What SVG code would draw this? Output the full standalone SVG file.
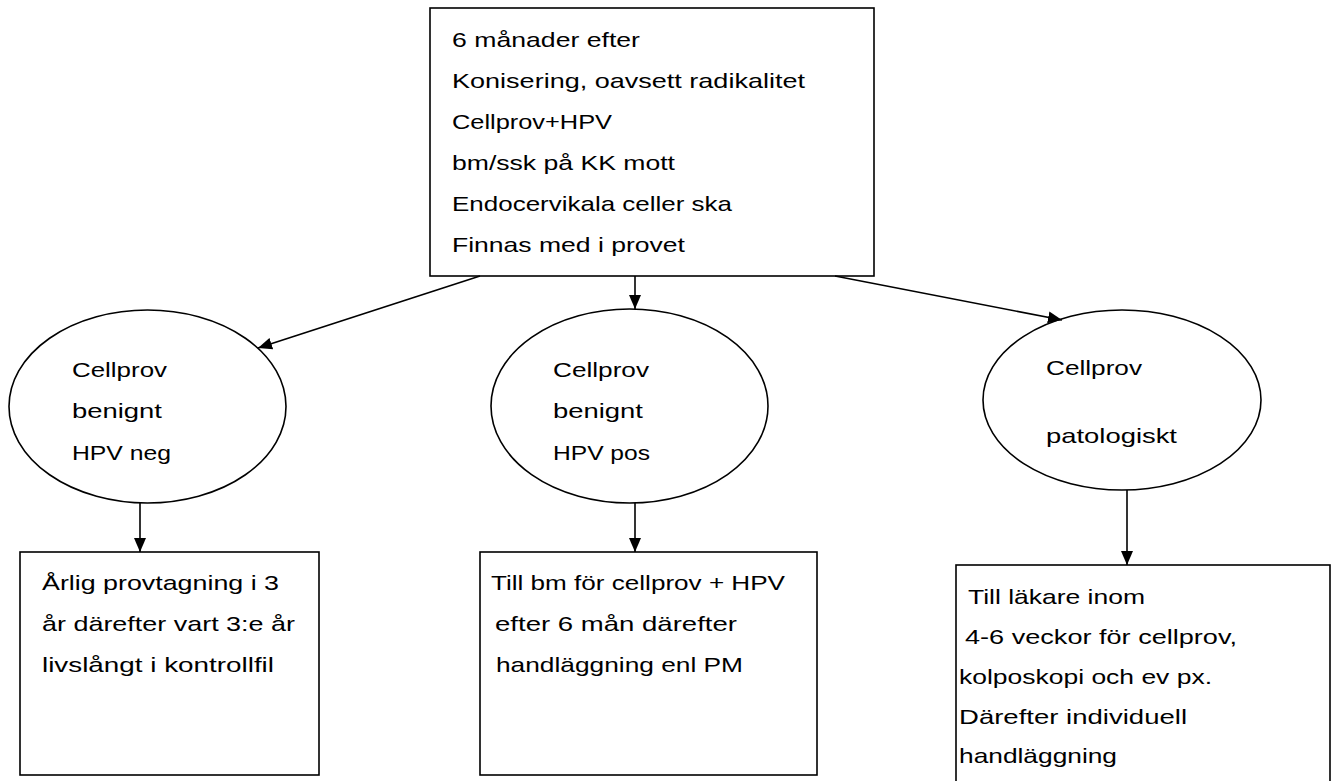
<svg xmlns="http://www.w3.org/2000/svg" width="1333" height="781" viewBox="0 0 1333 781">
<style>
.shape{fill:#fff;stroke:#000;stroke-width:1.6}
.t{font-family:"Liberation Sans",Arial,sans-serif;font-size:21px;fill:#000}
.c{fill:none;stroke:#000;stroke-width:1.6}
</style>
<defs>
<marker id="ah" markerUnits="userSpaceOnUse" markerWidth="14" markerHeight="12" viewBox="0 0 14 12" refX="14" refY="6" orient="auto">
<path d="M0,0 L14,6 L0,12 Z" fill="#000"/>
</marker>
</defs>
<rect width="1333" height="781" fill="#fff"/>
<g id="top">
<rect class="shape" x="430" y="8" width="444" height="268"/>
<text class="t" x="452" y="47" textLength="188" lengthAdjust="spacingAndGlyphs">6 månader efter</text>
<text class="t" x="452" y="88" textLength="353" lengthAdjust="spacingAndGlyphs">Konisering, oavsett radikalitet</text>
<text class="t" x="452" y="129" textLength="160" lengthAdjust="spacingAndGlyphs">Cellprov+HPV</text>
<text class="t" x="452" y="170" textLength="223" lengthAdjust="spacingAndGlyphs">bm/ssk på KK mott</text>
<text class="t" x="452" y="211" textLength="280" lengthAdjust="spacingAndGlyphs">Endocervikala celler ska</text>
<text class="t" x="452" y="252" textLength="233" lengthAdjust="spacingAndGlyphs">Finnas med i provet</text>
</g>
<g id="e1">
<ellipse class="shape" cx="147.5" cy="406.5" rx="138.5" ry="96.5"/>
<text class="t" x="72" y="377" textLength="95" lengthAdjust="spacingAndGlyphs">Cellprov</text>
<text class="t" x="72" y="418" textLength="90" lengthAdjust="spacingAndGlyphs">benignt</text>
<text class="t" x="72" y="460" textLength="99" lengthAdjust="spacingAndGlyphs">HPV neg</text>
</g>
<g id="e2">
<ellipse class="shape" cx="629.5" cy="406" rx="138.5" ry="97"/>
<text class="t" x="553" y="377" textLength="96" lengthAdjust="spacingAndGlyphs">Cellprov</text>
<text class="t" x="553" y="418" textLength="90" lengthAdjust="spacingAndGlyphs">benignt</text>
<text class="t" x="553" y="460" textLength="97" lengthAdjust="spacingAndGlyphs">HPV pos</text>
</g>
<g id="e3">
<ellipse class="shape" cx="1122" cy="400" rx="139" ry="90"/>
<text class="t" x="1046" y="375" textLength="96" lengthAdjust="spacingAndGlyphs">Cellprov</text>
<text class="t" x="1046" y="443" textLength="131" lengthAdjust="spacingAndGlyphs">patologiskt</text>
</g>
<g id="b1">
<rect class="shape" x="20" y="552" width="299" height="223"/>
<text class="t" x="42" y="590" textLength="237" lengthAdjust="spacingAndGlyphs">Årlig provtagning i 3</text>
<text class="t" x="42" y="631" textLength="253" lengthAdjust="spacingAndGlyphs">år därefter vart 3:e år</text>
<text class="t" x="42" y="672" textLength="232" lengthAdjust="spacingAndGlyphs">livslångt i kontrollfil</text>
</g>
<g id="b2">
<rect class="shape" x="480" y="552" width="337" height="223"/>
<text class="t" x="491" y="590" textLength="294" lengthAdjust="spacingAndGlyphs">Till bm för cellprov + HPV</text>
<text class="t" x="495" y="631" textLength="242" lengthAdjust="spacingAndGlyphs">efter 6 mån därefter</text>
<text class="t" x="496" y="672" textLength="247" lengthAdjust="spacingAndGlyphs">handläggning enl PM</text>
</g>
<g id="b3">
<rect class="shape" x="956" y="565" width="374" height="230"/>
<text class="t" x="968" y="604" textLength="177" lengthAdjust="spacingAndGlyphs">Till läkare inom</text>
<text class="t" x="965" y="644" textLength="272" lengthAdjust="spacingAndGlyphs">4-6 veckor för cellprov,</text>
<text class="t" x="959" y="684" textLength="253" lengthAdjust="spacingAndGlyphs">kolposkopi och ev px.</text>
<text class="t" x="959" y="724" textLength="228" lengthAdjust="spacingAndGlyphs">Därefter individuell</text>
<text class="t" x="959" y="763" textLength="158" lengthAdjust="spacingAndGlyphs">handläggning</text>
</g>
<g id="connectors">
<line class="c" x1="480" y1="276" x2="258" y2="348" marker-end="url(#ah)"/>
<line class="c" x1="635" y1="276" x2="635" y2="309" marker-end="url(#ah)"/>
<line class="c" x1="835" y1="276" x2="1062" y2="320" marker-end="url(#ah)"/>
<line class="c" x1="140" y1="503" x2="140" y2="552" marker-end="url(#ah)"/>
<line class="c" x1="635" y1="503" x2="635" y2="552" marker-end="url(#ah)"/>
<line class="c" x1="1127" y1="490" x2="1127" y2="565" marker-end="url(#ah)"/>
</g>
</svg>
